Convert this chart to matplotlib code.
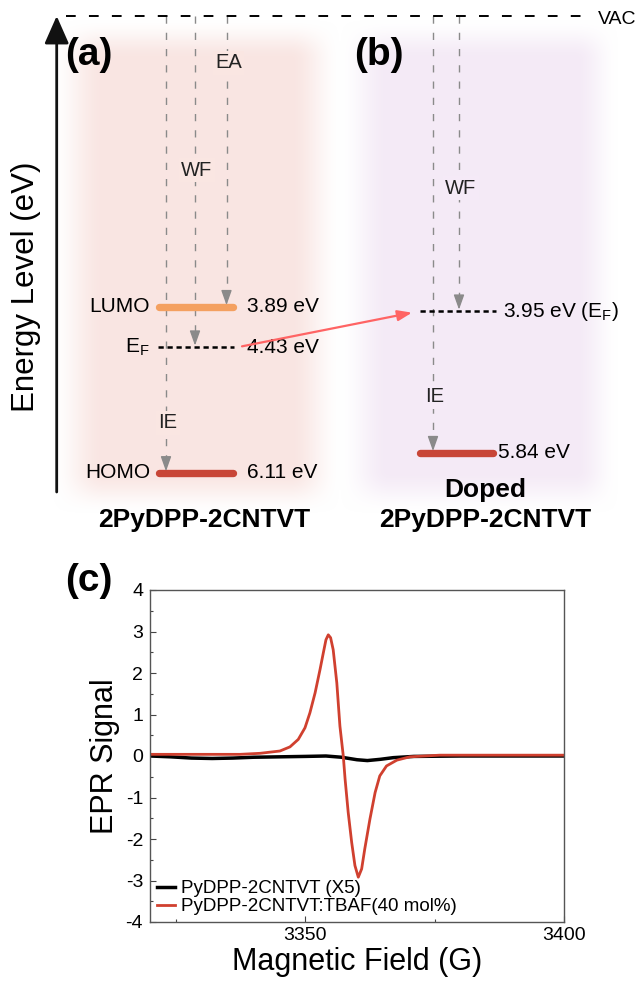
"""
Energy level diagram of pristine / doped 2PyDPP-2CNTVT and EPR spectra
"""
import numpy as np
import matplotlib.pyplot as plt

plt.rcParams['font.family'] = ['Liberation Sans', 'DejaVu Sans']
plt.rcParams['mathtext.fontset'] = 'custom'
plt.rcParams['mathtext.rm'] = 'Liberation Sans'
plt.rcParams['mathtext.it'] = 'Liberation Sans:italic'
plt.rcParams['axes.unicode_minus'] = False

'''DATA'''
# energy levels below vacuum [eV]
pristine_names = ['LUMO', r'E$_\mathrm{F}$', 'HOMO']
pristine_energy = [3.89, 4.43, 6.11]
doped_names = ['EF', 'HOMO']
doped_energy = [3.95, 5.84]
sample_a = '2PyDPP-2CNTVT'
sample_b = ['Doped', '2PyDPP-2CNTVT']

# EPR spectra
field_red = [3320, 3325, 3330, 3334, 3337.4, 3341.3, 3343, 3345.1, 3347.05,
             3348.65, 3349.95, 3350.9, 3351.9, 3352.85, 3353.5, 3354.0,
             3354.45, 3354.9, 3355.4, 3356.1, 3356.7, 3357.35, 3357.7, 3358.3,
             3358.97, 3359.6, 3360.25, 3360.9, 3361.5, 3362.5, 3363.5, 3364.4,
             3365.7, 3367.7, 3370.2, 3376, 3385, 3400]
signal_red = [0.04, 0.04, 0.04, 0.04, 0.04, 0.065, 0.09, 0.12, 0.22,
              0.40, 0.68, 1.04, 1.52, 2.08, 2.49, 2.80,
              2.92, 2.85, 2.56, 1.76, 0.72, 0.0, -0.56, -1.36,
              -2.08, -2.64, -2.92, -2.72, -2.24, -1.52, -0.88, -0.48,
              -0.24, -0.10, -0.02, 0.02, 0.02, 0.02]
field_black = [3320, 3324, 3328, 3332, 3336, 3340, 3345, 3350, 3354, 3357,
               3360, 3362, 3364.5, 3367, 3371, 3380, 3390, 3400]
signal_black = [0.0, -0.02, -0.05, -0.06, -0.05, -0.03, -0.02, -0.01, 0.0,
                -0.03, -0.09, -0.11, -0.08, -0.04, -0.01, 0.0, 0.0, 0.0]
legend_labels = ['PyDPP-2CNTVT (X5)', 'PyDPP-2CNTVT:TBAF(40 mol%)']

'''COLOURS'''
c_lumo = '#F4A060'
c_homo = '#C84637'
c_gray = '#8A8A8A'
c_red = '#D0402F'
bg_a = (0.980, 0.900, 0.888)
bg_b = (0.960, 0.918, 0.968)

fig = plt.figure(figsize=(6.41, 9.82), dpi=100)

'''TOP: ENERGY DIAGRAM'''
H_top = 560                      # pixel rows used by top panel
vac_px = 15.5                    # pixel row of vacuum level
px_per_eV = 74.85
E = lambda py: (py - vac_px) / px_per_eV

ax = fig.add_axes([0, 1 - H_top / 982, 1, H_top / 982])
ax.set_xlim(0, 641)
ax.set_ylim(E(H_top), E(0))
ax.axis('off')

# soft coloured backgrounds
xx, yy = np.meshgrid(np.arange(641) + 0.5, np.arange(H_top) + 0.5)


def ramp(v, a0, a1, b0, b1):
    up = np.clip((v - a0) / (a1 - a0), 0, 1)
    dn = np.clip((b1 - v) / (b1 - b0), 0, 1)
    f = up * dn
    return f * f * (3 - 2 * f)


for col, (x0, x1, x2, x3) in [(bg_a, (50, 105, 290, 342)),
                              (bg_b, (338, 390, 575, 620))]:
    img = np.zeros((H_top, 641, 4))
    img[..., :3] = col
    img[..., 3] = ramp(xx, x0, x1, x2, x3) * ramp(yy, 18, 60, 470, 515)
    ax.imshow(img, extent=(0, 641, E(H_top), E(0)), origin='upper',
              aspect='auto', zorder=0, interpolation='bilinear')

# vacuum level and energy axis
ax.plot([66, 592], [0, 0], color='k', lw=1.4, ls=(0, (5, 6.8)), zorder=2)
ax.text(598, 0.06, 'VAC', fontsize=14, ha='left', va='center')
ax.annotate('', xy=(56.7, E(16)), xytext=(56.7, E(492)),
            arrowprops=dict(arrowstyle='-|>,head_length=1.7,head_width=0.75',
                            color='#111111', lw=2.0, mutation_scale=10,
                            shrinkA=0, shrinkB=0))
ax.text(26.5, E(287), 'Energy Level (eV)', rotation=90, fontsize=22.5,
        ha='center', va='center')

ax.text(65, E(55), '(a)', fontsize=28, fontweight='bold', ha='left', va='center')
ax.text(354, E(55), '(b)', fontsize=28, fontweight='bold', ha='left', va='center')


def drop(x, e_end, label, e_label, bg):
    ax.plot([x, x], [0.0, e_end - 0.12], color=c_gray, lw=1.0,
            ls=(0, (5.2, 6.5)), zorder=1)
    ax.annotate('', xy=(x, e_end - 0.02), xytext=(x, e_end - 0.2),
                arrowprops=dict(arrowstyle='-|>,head_length=0.9,head_width=0.32',
                                color=c_gray, lw=1.0, mutation_scale=10,
                                shrinkA=0, shrinkB=0), zorder=3)
    ax.text(x + 2, e_label, label, fontsize=14.5, ha='center', va='center',
            color='#222222', zorder=2,
            bbox=dict(boxstyle='square,pad=0.12', fc=bg, ec='none'))


# pristine film (a)
lumo_a, ef_a, homo_a = pristine_energy
drop(166, homo_a, 'IE', E(423), bg_a)
drop(195, ef_a, 'WF', E(170), bg_a)
drop(226.5, lumo_a, 'EA', E(63), bg_a)

ax.plot([159, 233], [lumo_a, lumo_a], color=c_lumo, lw=5.3,
        solid_capstyle='round', zorder=2)
ax.plot([159, 233], [homo_a, homo_a], color=c_homo, lw=5.3,
        solid_capstyle='round', zorder=2)
ax.plot([158, 234], [ef_a, ef_a], color='k', lw=1.8, ls=(0, (2.1, 1.5)),
        zorder=2)
for name, e in zip(pristine_names, pristine_energy):
    ax.text(150, e, name, fontsize=15, ha='right', va='center')
    ax.text(247, e, '%.2f eV' % e, fontsize=15, ha='left', va='center')

# doped film (b)
ef_b, homo_b = doped_energy
drop(433, homo_b, 'IE', E(397), bg_b)
drop(459, ef_b, 'WF', E(188), bg_b)
ax.plot([420, 493], [homo_b, homo_b], color=c_homo, lw=5.3,
        solid_capstyle='round', zorder=2)
ax.plot([420, 496], [ef_b, ef_b], color='k', lw=1.8, ls=(0, (2.1, 1.5)),
        zorder=2)
ax.text(503, ef_b, '%.2f eV (E$_\\mathrm{F}$)' % ef_b, fontsize=15,
        ha='left', va='center')
ax.text(498, homo_b, '%.2f eV' % homo_b, fontsize=15, ha='left', va='center')

# Fermi level shift arrow
ax.annotate('', xy=(412, ef_b + 0.02), xytext=(242, ef_a - 0.01),
            arrowprops=dict(arrowstyle='-|>,head_length=0.86,head_width=0.32',
                            color='#FF6464', lw=1.6, mutation_scale=10,
                            shrinkA=0, shrinkB=0), zorder=4)

ax.text(204, E(520), sample_a, fontsize=19, fontweight='bold',
        ha='center', va='center')
ax.text(485, E(490), sample_b[0], fontsize=19, fontweight='bold',
        ha='center', va='center')
ax.text(485, E(520), sample_b[1], fontsize=19, fontweight='bold',
        ha='center', va='center')

'''BOTTOM: EPR'''
ax2 = fig.add_axes([150 / 641, 1 - 922 / 982, 414 / 641, 332 / 982])
ax2.plot(field_black, signal_black, color='k', lw=2.5, label=legend_labels[0])
ax2.plot(field_red, signal_red, color=c_red, lw=2.0, label=legend_labels[1])
ax2.set_xlim(3320, 3400)
ax2.set_ylim(-4, 4)
ax2.set_xticks([3350, 3400])
ax2.set_xticks([3325, 3375], minor=True)
ax2.set_yticks(np.arange(-4, 5, 1))
ax2.set_yticks(np.arange(-3.5, 4, 1), minor=True)
ax2.tick_params(which='both', direction='in', labelsize=14, colors='#444444',
                labelcolor='k')
ax2.tick_params(which='major', length=4, width=0.8)
ax2.tick_params(which='minor', length=2.5, width=0.8)
ax2.tick_params(axis='y', pad=5)
for s in ax2.spines.values():
    s.set_color('#555555')
    s.set_linewidth(1.0)
ax2.set_xlabel('Magnetic Field (G)', fontsize=22, labelpad=2)
ax2.set_ylabel('EPR Signal', fontsize=22, labelpad=4)
ax2.legend(loc='lower left', frameon=False, fontsize=13.5, handlelength=1.0,
           handletextpad=0.3, labelspacing=0.05, borderaxespad=0.15,
           borderpad=0.2)
fig.text(65 / 641, 1 - 581 / 982, '(c)', fontsize=28, fontweight='bold',
         ha='left', va='center')

plt.savefig('out.png', dpi=100)
